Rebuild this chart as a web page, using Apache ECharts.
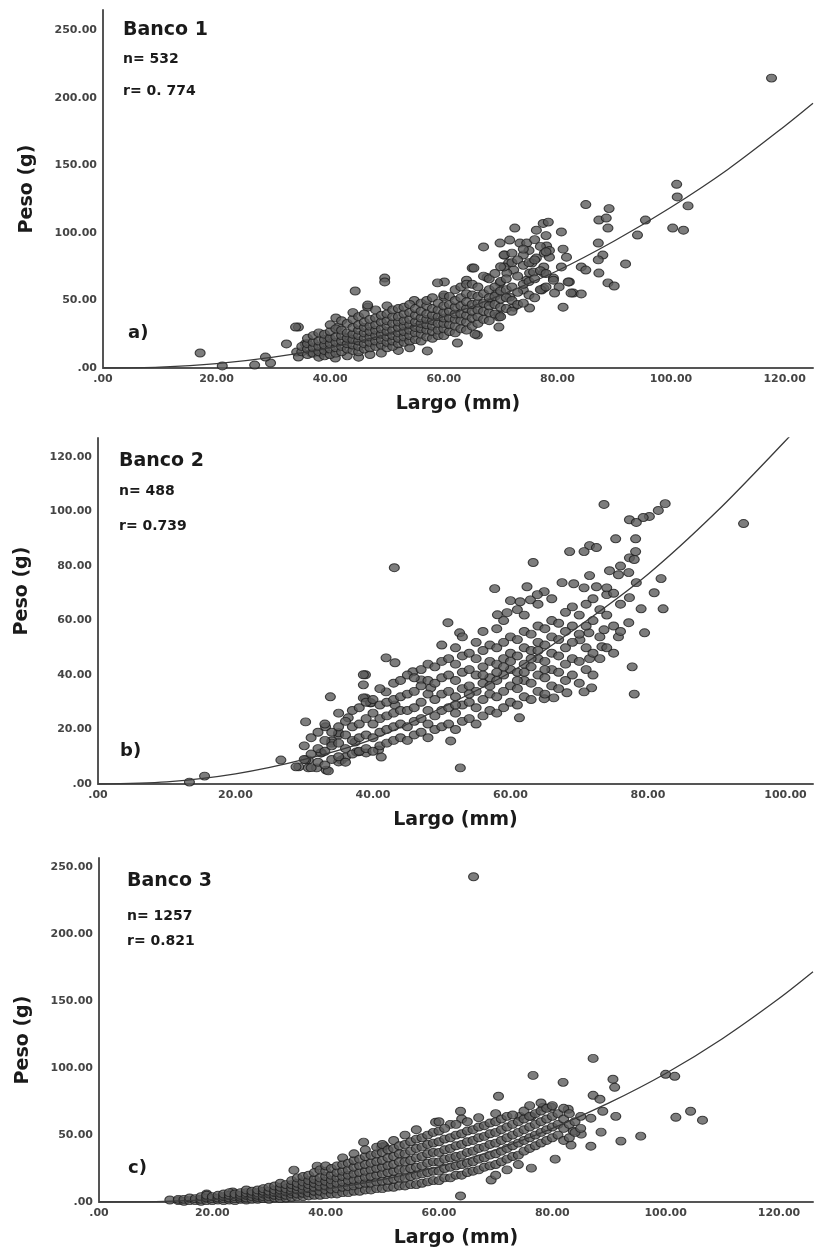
<!DOCTYPE html>
<html lang="es">
<head>
<meta charset="UTF-8" />
<title>Peso vs Largo</title>
<script src="https://cdn.jsdelivr.net/npm/echarts@6/dist/echarts.min.js"></script>
<style>
  html, body { margin: 0; background: #fff; }
  #main { width: 816px; height: 1249px; }
</style>
</head>
<body>
<div id="main"></div>
<script>
// Banco 1 : [largo (mm), peso (g)]
var banco1 = [
  [117.7,214.6],[101,136],[101.1,126.6],[103,120],[100.3,103.6],[102.2,102],[95.5,109.5],[94.1,98.4],[92,77],
  [85,121],[89.1,118],[87.3,109.5],[88.9,103.6],[88.6,111],[87.2,92.5],[88,83.6],[87.2,80],[87.3,70.3],[88.9,63],
  [90,60.7],[84.2,74.8],[85,72.5],[72.5,103.6],[76.3,102],[77.5,107],[78.4,108],[80.7,100.7],[67,89.6],[69.9,92.5],
  [71.6,94.7],[73.4,92.5],[74.6,92.5],[78.1,90.3],[77.7,85],[78.6,82],[81,88],[81.6,82],[70.7,83.6],[76.3,81.4],
  [80.7,74.8],[79.3,66.6],[82.1,63.7],[80.3,60],[82.8,55.5],[84.2,54.8],[79.5,55.5],[77.6,59],[81,45],[75.1,44.4],
  [69.9,63],[65,74],[72.3,72.5],[74.6,65],[74,57.7],[77.6,74.8],[75.1,70.3],[71.1,70.3],[69.3,55.5],[68.1,48.9],
  [69.7,39.2],[69.7,30.3],[65.9,24.4],[62.4,18.5],[57.1,12.6],[60.1,63.7],[58.9,63],[49.6,66.6],[49.6,63.7],[44.4,57],
  [34.4,30.3],[17.1,11.1],[21,1.5],[26.7,2.2],[29.5,3.7],[28.6,8.1],[32.3,17.8],[33.9,30.3],[35.6,17.8],[34.1,11.8],
  [34.4,8.1],[36.7,11.1],[38.4,11.1],[40.9,7.4],[46.6,45],[41,37],[41.4,30.3],[39.6,22],[43.1,23],[39.1,15.5],
  [65.3,74],[64,65],[67.6,67],[70.6,83.6],[75,87],[78.6,87],[75.5,77.7],[74,83.6],[71.4,77.7],[70.6,74.8],
  [75.8,71],[77.6,70.3],[71.6,52.5],[72.3,45],[69.7,37.7],[65.5,25],[81.9,63.7],[79.3,65],[77.2,57.7],[82.4,55.5],
  [43,9],[45,8],[47,10],[49,11],[52,13],[54,15],[46.6,46.6],[54.8,50],[60,52.6],
  [35,12],[35,16],[36,10],[36,14],[36,18],[36,22],[37,11],[37,15],[37,19],[37,24],
  [38,8],[38,12],[38,16],[38,20],[38,26],[39,9],[39,13],[39,17],[39,21],[39,25],
  [40,10],[40,14],[40,18],[40,22],[40,27],[40,32],[41,11],[41,15],[41,19],[41,23],[41,29],
  [42,12],[42,16],[42,20],[42,24],[42,28],[42,35],[43,14],[43,18],[43,22],[43,26],[43,33],
  [44,13],[44,17],[44,21],[44,25],[44,30],[44,36],[44,41],[45,12],[45,16],[45,20],[45,24],[45,28],[45,32],[45,38],
  [46,14],[46,18],[46,22],[46,26],[46,30],[46,34],[46,40],[47,15],[47,19],[47,23],[47,27],[47,31],[47,36],
  [48,16],[48,20],[48,24],[48,28],[48,32],[48,37],[48,43],[49,17],[49,21],[49,25],[49,29],[49,34],[49,39],
  [50,15],[50,19],[50,23],[50,27],[50,31],[50,35],[50,40],[50,46],[51,16],[51,20],[51,24],[51,28],[51,33],[51,38],[51,43],
  [52,18],[52,22],[52,26],[52,30],[52,34],[52,38],[52,44],[53,19],[53,23],[53,27],[53,31],[53,35],[53,40],[53,45],
  [54,20],[54,24],[54,28],[54,32],[54,36],[54,41],[54,47],[55,21],[55,26],[55,30],[55,34],[55,39],[55,44],
  [56,20],[56,25],[56,29],[56,33],[56,37],[56,42],[56,48],[57,23],[57,28],[57,32],[57,36],[57,40],[57,46],[57,50],
  [58,22],[58,27],[58,31],[58,35],[58,39],[58,44],[58,52],[59,24],[59,28],[59,33],[59,38],[59,43],[59,48],
  [60,24],[60,29],[60,33],[60,37],[60,41],[60,46],[60,54],[61,27],[61,32],[61,37],[61,42],[61,47],[61,53],
  [62,26],[62,31],[62,36],[62,40],[62,45],[62,50],[62,58],[63,29],[63,35],[63,40],[63,46],[63,52],[63,60],
  [64,28],[64,34],[64,39],[64,44],[64,49],[64,55],[64,62],[65,31],[65,37],[65,42],[65,47],[65,54],[65,62],
  [66,33],[66,38],[66,43],[66,48],[66,53],[66,60],[67,36],[67,42],[67,48],[67,55],[67,68],
  [68,35],[68,41],[68,46],[68,52],[68,58],[68,66],[69,40],[69,47],[69,53],[69,60],[69,70],
  [70,38],[70,45],[70,51],[70,57],[70,64],[70,75],[71,44],[71,52],[71,58],[71,66],
  [72,42],[72,50],[72,60],[72,78],[72,85],[73,47],[73,56],[73,68],[73,80],[74,48],[74,62],[74,76],[74,88],
  [75,54],[75,64],[75,78],[76,52],[76,66],[76,80],[76,95],[77,58],[77,72],[77,90],[78,60],[78,70],[78,86],[78,98]
];

// Banco 2
var banco2 = [
  [93.9,95.6],[73.6,102.6],[82.5,102.9],[81.5,100.4],[80.2,98.2],[79.3,97.8],[77.3,97],[78.3,96],[75.3,90],[78.2,90],
  [71.5,87.5],[72.5,86.8],[70.7,85.3],[68.6,85.3],[78.2,85.3],[77.3,83],[78,82.4],[63.3,81.3],[43.1,79.4],[74.4,78.3],
  [75.7,76.8],[77.2,77.6],[71.5,76.5],[81.9,75.4],[78.3,73.9],[57.7,71.7],[62.4,72.4],[64.9,70.6],[67.5,73.9],[69.2,73.5],
  [70.7,72],[72.5,72.4],[80.9,70.2],[74,69.5],[60,67.3],[61.4,66.9],[62.9,67.6],[63.9,69.5],[77.3,68.4],[82.2,64.3],
  [79,64.3],[50.9,59.2],[52.6,55.5],[58.1,62.1],[59.5,62.9],[77.2,59.2],[79.5,55.5],[75.7,54],[73.6,56.6],[71.4,55.5],
  [70.1,52.9],[73.3,50.4],[71.5,46],[77.7,43],[78,33],[71.8,35.3],[70.7,33.8],[68.2,33.5],[66.3,31.6],[64.9,31.3],
  [61.3,24.3],[51.3,15.8],[52.7,5.9],[41.9,46.3],[43.2,44.5],[38.9,40.1],[38.6,36.4],[41.9,33.8],[33.8,32],[38.9,31.6],
  [39.6,29.8],[43.2,29],[45.8,41.2],[47,38.2],[48.4,35.3],[30.2,22.8],[33.1,21],[36.4,24.3],[35,18],[34,15.8],
  [32.5,11.4],[30.6,8.8],[33.2,5.1],[29.2,6.3],[40.8,12.5],[41.2,9.9],[37.9,11.8],[39,11.4],[35.4,8.8],
  [13.3,0.7],[15.5,2.9],[26.6,8.8],[28.8,6.3],[30.2,8.8],[30.6,5.9],[31.8,5.9],[33.5,4.8],[32.4,11.4],[34,15],
  [35,18.8],[38.6,40.1],[38.6,31.6],[39.7,29.8],[37.4,15.4],[37.6,11.8],[35,8.1],[36,9.9],
  [30,9],[30,14],[31,6],[31,11],[31,17],[32,8],[32,13],[32,19],[33,7],[33,12],[33,16],[33,22],[34,9],[34,14],[34,19],
  [35,10],[35,15],[35,21],[35,26],[36,8],[36,13],[36,18],[36,23],[37,11],[37,16],[37,21],[37,27],[38,12],[38,17],[38,22],[38,28],
  [39,13],[39,18],[39,24],[39,30],[40,12],[40,17],[40,22],[40,26],[40,31],[41,14],[41,19],[41,24],[41,29],[41,35],
  [42,15],[42,20],[42,25],[42,30],[43,16],[43,21],[43,26],[43,31],[43,37],[44,17],[44,22],[44,27],[44,32],[44,38],
  [45,16],[45,21],[45,27],[45,33],[45,40],[46,18],[46,23],[46,28],[46,34],[46,39],[47,19],[47,24],[47,30],[47,36],[47,42],
  [48,17],[48,22],[48,27],[48,33],[48,38],[48,44],[49,20],[49,25],[49,31],[49,37],[49,43],
  [50,21],[50,27],[50,33],[50,39],[50,45],[50,51],[51,22],[51,28],[51,34],[51,40],[51,46],
  [52,20],[52,26],[52,32],[52,38],[52,44],[52,50],[53,23],[53,29],[53,35],[53,41],[53,47],[53,54],
  [54,24],[54,30],[54,36],[54,42],[54,48],[55,22],[55,28],[55,34],[55,40],[55,46],[55,52],
  [56,25],[56,31],[56,37],[56,43],[56,49],[56,56],[57,27],[57,33],[57,39],[57,45],[57,51],
  [58,26],[58,32],[58,38],[58,44],[58,50],[58,57],[59,28],[59,34],[59,40],[59,46],[59,52],[59,60],
  [60,30],[60,36],[60,42],[60,48],[60,54],[61,29],[61,35],[61,41],[61,47],[61,53],[61,64],
  [62,32],[62,38],[62,44],[62,50],[62,56],[62,62],[63,31],[63,37],[63,43],[63,49],[63,55],
  [64,34],[64,40],[64,46],[64,52],[64,58],[64,66],[65,33],[65,39],[65,45],[65,51],[65,57],
  [66,36],[66,42],[66,48],[66,54],[66,60],[66,68],[67,35],[67,41],[67,47],[67,53],[67,59],
  [68,38],[68,44],[68,50],[68,56],[68,63],[69,40],[69,46],[69,52],[69,58],[69,65],
  [70,37],[70,45],[70,55],[70,62],[71,42],[71,50],[71,58],[71,66],[72,40],[72,48],[72,60],[72,68],
  [73,46],[73,54],[73,64],[74,50],[74,62],[74,72],[75,48],[75,58],[75,70],[76,56],[76,66],[76,80],
  [54,33],[57,36],[59,43],[61,38],[63,46],[65,42],[52,29],[56,40],[60,45],[62,41],[58,41],[64,49]
];

// Banco 3
var banco3 = [
  [66.1,243],[87.2,107.3],[76.6,94.6],[81.9,89.4],[90.7,91.7],[91,85.7],[100,95.4],[101.6,93.9],[70.5,79],[87.2,79.7],
  [88.4,76.8],[88.9,67.8],[86.8,62.6],[91.2,64],[104.4,67.8],[101.8,63.3],[106.5,61.1],[88.6,52.2],[95.6,49.2],[92.1,45.5],
  [85.1,50.7],[86.8,41.7],[83.7,52.9],[76.3,25.3],[63.8,4.5],[63.8,67.8],[59.4,59.6],[46.7,44.7],[50.3,41.7],[69.2,16.4],
  [82.8,69.3],[79.8,70.8],[78.4,70.8],[76.3,64],[74.3,64],[80.5,32],[83.3,42.5],[49.9,41],[38.5,26.8],[34.4,23.8],
  [12.5,1.5],[19,6],[23.6,7.5],[70,20],[72,24],[74,28],[60,60],[62,58],[64,62],
  [14,1],[14,2],[15,0.5],[15,2],[16,1],[16,3],[17,1],[17,2.5],[18,0.5],[18,2],[18,4],[19,1],[19,3],[19,5],
  [20,1],[20,2.5],[20,4],[21,1.5],[21,3],[21,5],[22,1],[22,2.5],[22,4],[22,6],[23,1.5],[23,3],[23,5],[23,7],
  [24,1],[24,2.5],[24,4],[24,6],[25,2],[25,3.5],[25,5],[25,7],[26,1.5],[26,3],[26,5],[26,7],[26,9],
  [27,2],[27,4],[27,6],[27,8],[28,2],[28,3.5],[28,5],[28,7],[28,9],[29,2.5],[29,4],[29,6],[29,8],[29,10],
  [30,2],[30,4],[30,6],[30,8],[30,11],[31,3],[31,5],[31,7],[31,9],[31,12],[32,2.5],[32,4.5],[32,6.5],[32,9],[32,11],[32,14],
  [33,3],[33,5],[33,7.5],[33,10],[33,13],[34,3.5],[34,6],[34,8],[34,10.5],[34,13],[34,16],
  [35,4],[35,6],[35,9],[35,11.5],[35,14],[35,18],[36,4],[36,6.5],[36,9],[36,12],[36,15],[36,19],
  [37,4.5],[37,7],[37,10],[37,13],[37,16],[37,20],[38,5],[38,8],[38,11],[38,14],[38,17],[38,22],
  [39,5],[39,8],[39,11.5],[39,15],[39,18],[39,24],[40,5.5],[40,9],[40,12],[40,15.5],[40,19],[40,23],[40,27],
  [41,6],[41,9.5],[41,13],[41,16.5],[41,20],[41,25],[42,6],[42,10],[42,14],[42,18],[42,22],[42,27],
  [43,7],[43,11],[43,15],[43,19],[43,23],[43,28],[43,33],[44,7],[44,11.5],[44,16],[44,20],[44,24],[44,29],
  [45,8],[45,12],[45,16.5],[45,21],[45,26],[45,31],[45,36],[46,8],[46,13],[46,17],[46,22],[46,27],[46,32],
  [47,9],[47,14],[47,18.5],[47,23],[47,28],[47,34],[47,39],[48,9],[48,14],[48,19],[48,24],[48,29],[48,35],
  [49,10],[49,15],[49,20],[49,25],[49,30],[49,36],[49,41],[50,10],[50,15.5],[50,21],[50,26],[50,31],[50,37],[50,43],
  [51,11],[51,16],[51,22],[51,27],[51,33],[51,39],[52,11],[52,17],[52,23],[52,28],[52,34],[52,40],[52,46],
  [53,12],[53,18],[53,24],[53,30],[53,36],[53,42],[54,12],[54,18],[54,24],[54,30],[54,36],[54,43],[54,50],
  [55,13],[55,19],[55,25],[55,31],[55,38],[55,45],[56,13],[56,20],[56,26],[56,33],[56,40],[56,47],[56,54],
  [57,14],[57,21],[57,27],[57,34],[57,41],[57,48],[58,15],[58,22],[58,29],[58,36],[58,43],[58,50],
  [59,16],[59,23],[59,30],[59,37],[59,44],[59,52],[60,16],[60,23],[60,30],[60,37],[60,45],[60,53],
  [61,18],[61,25],[61,32],[61,39],[61,47],[61,55],[62,18],[62,26],[62,33],[62,40],[62,48],
  [63,20],[63,27],[63,34],[63,42],[63,50],[63,58],[64,20],[64,28],[64,35],[64,43],[64,51],
  [65,22],[65,29],[65,37],[65,45],[65,53],[65,60],[66,23],[66,30],[66,38],[66,46],[66,54],
  [67,24],[67,32],[67,40],[67,48],[67,56],[67,63],[68,26],[68,33],[68,41],[68,49],[68,57],
  [69,27],[69,35],[69,43],[69,51],[69,59],[70,28],[70,36],[70,44],[70,52],[70,60],[70,66],
  [71,30],[71,38],[71,46],[71,54],[71,62],[72,32],[72,40],[72,48],[72,56],[72,64],
  [73,34],[73,42],[73,50],[73,58],[73,65],[74,35],[74,44],[74,52],[74,60],
  [75,38],[75,46],[75,54],[75,62],[75,68],[76,40],[76,48],[76,56],[76,64],[76,72],
  [77,42],[77,50],[77,58],[77,66],[78,44],[78,52],[78,60],[78,68],[78,74],[79,46],[79,54],[79,62],[79,70],
  [80,48],[80,56],[80,64],[80,72],[81,50],[81,58],[81,66],[82,46],[82,55],[82,62],[82,70],
  [83,48],[83,58],[83,66],[84,52],[84,60],[85,55],[85,64]
];

// fitted curves
var curva1 = [[0,0],[10,0.7],[20,3.2],[30,8],[40,15],[50,25],[60,38],[70,54],[80,72],[90,94],[100,119],[110,147],[120,179],[125,196]];
var curva2 = [[0,0],[10,0.8],[20,3.7],[30,9],[40,16.5],[50,28],[60,41],[70,58],[80,77],[90,100],[100,126],[104,137]];
var curva3 = [[0,0],[10,0.3],[20,1.7],[30,4.6],[40,9.6],[50,16.7],[60,26.5],[70,39],[80,55],[90,74],[100,96],[110,122],[120,152],[126,172]];

var titulos = ["Banco 1", "Banco 2", "Banco 3"];
var nTexto = ["n= 532", "n= 488", "n= 1257"];
var rTexto = ["r= 0. 774", "r= 0.739", "r= 0.821"];
var letras = ["a)", "b)", "c)"];

var xMax = [125, 104, 126];
var xStep = [20, 20, 20];
var yMax = [265, 127, 257];
var yStep = [50, 20, 50];

var FONT = "'DejaVu Sans', sans-serif";

function fmt(step) {
  return function (v) {
    if (Math.abs(v % step) > 1e-6) return "";
    return v === 0 ? ".00" : v.toFixed(2);
  };
}

var chart = echarts.init(document.getElementById("main"));

var grids = [
  { left: 103, top: 10, right: 0, height: 358 },
  { left: 98, top: 438, right: 0, height: 346 },
  { left: 99, top: 858, right: 0, height: 345 }
];
var namePad = [[0, 0, 0, 0], [0, 0, 0, 40], [0, 20, 0, 0]];

var xAxes = [], yAxes = [], series = [], graphic = [];
var datos = [banco1, banco2, banco3];
var curvas = [curva1, curva2, curva3];

for (var i = 0; i < 3; i++) {
  xAxes.push({
    gridIndex: i, type: "value", min: 0, max: xMax[i], interval: xStep[i],
    name: "Largo (mm)", nameLocation: "middle", nameGap: 27,
    nameTextStyle: { fontFamily: FONT, fontWeight: "bold", fontSize: 19, color: "#1a1a1a" },
    axisLine: { lineStyle: { color: "#555", width: 2 } },
    axisTick: { show: false }, splitLine: { show: false },
    axisLabel: { formatter: fmt(xStep[i]), margin: 6, fontFamily: FONT, fontWeight: "bold", fontSize: 11, color: "#444" }
  });
  yAxes.push({
    gridIndex: i, type: "value", min: 0, max: yMax[i], interval: yStep[i],
    name: "Peso (g)", nameLocation: "middle", nameGap: 66,
    nameTextStyle: { fontFamily: FONT, fontWeight: "bold", fontSize: 19, color: "#1a1a1a", padding: namePad[i] },
    axisLine: { show: true, lineStyle: { color: "#555", width: 2 } },
    axisTick: { show: false }, splitLine: { show: false },
    axisLabel: { formatter: fmt(yStep[i]), margin: 6, fontFamily: FONT, fontWeight: "bold", fontSize: 11, color: "#444" }
  });
  series.push({
    type: "scatter", xAxisIndex: i, yAxisIndex: i, data: datos[i],
    symbol: "circle", symbolSize: [10, 8],
    itemStyle: { color: "#5c5c5c", borderColor: "#1c1c1c", borderWidth: 1 }
  });
  series.push({
    type: "line", xAxisIndex: i, yAxisIndex: i, data: curvas[i],
    smooth: 0.3, showSymbol: false, clip: true,
    lineStyle: { color: "#3a3a3a", width: 1.3 }, z: 5
  });
}

var tpos = [
  { x: 123, t: 21, n: 52, r: 84, lx: 128, l: 324 },
  { x: 119, t: 452, n: 484, r: 519, lx: 120, l: 742 },
  { x: 127, t: 872, n: 909, r: 934, lx: 128, l: 1159 }
];
for (var j = 0; j < 3; j++) {
  var p = tpos[j];
  graphic.push({ type: "text", left: p.x, top: p.t, style: { text: titulos[j], font: "bold 19px " + FONT, fill: "#1a1a1a" } });
  graphic.push({ type: "text", left: p.x, top: p.n, style: { text: nTexto[j], font: "bold 14px " + FONT, fill: "#1a1a1a" } });
  graphic.push({ type: "text", left: p.x, top: p.r, style: { text: rTexto[j], font: "bold 14px " + FONT, fill: "#1a1a1a" } });
  graphic.push({ type: "text", left: p.lx, top: p.l, style: { text: letras[j], font: "bold 18px " + FONT, fill: "#1a1a1a" } });
}

chart.setOption({
  backgroundColor: "#fff",
  animation: false,
  grid: grids,
  xAxis: xAxes,
  yAxis: yAxes,
  series: series,
  graphic: graphic
});
</script>
</body>
</html>
